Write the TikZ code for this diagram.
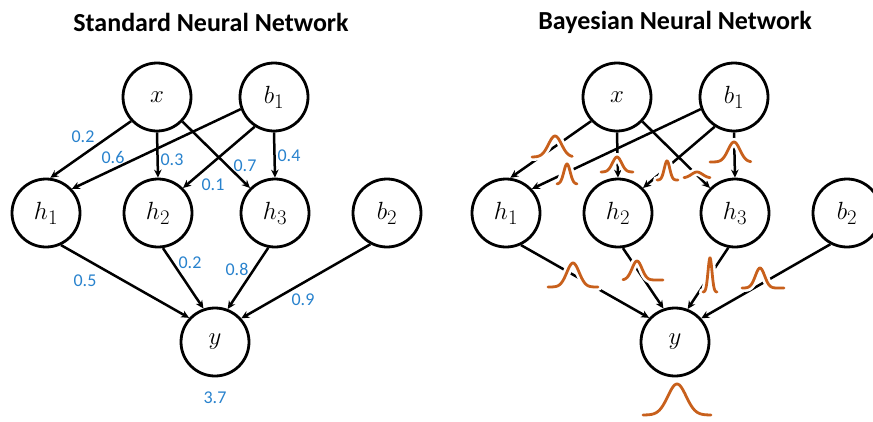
\documentclass[tikz,border=0pt]{standalone}
\usepackage{fontspec}
\setmainfont{Carlito}
\usetikzlibrary{arrows.meta}
\definecolor{wblue}{RGB}{40,130,205}
\definecolor{borange}{RGB}{200,96,28}
\newcommand\bellcurve[6]{%
  \draw[white,line width=8pt,line cap=round] plot[domain=#6,samples=50,smooth] ({#1+#3*\x},{#2-#4*exp(-(\x/#5)*(\x/#5))});
  \draw[bellc] plot[domain=#6,samples=50,smooth] ({#1+#3*\x},{#2-#4*exp(-(\x/#5)*(\x/#5))});
}
\begin{document}
\begin{tikzpicture}[x=1pt,y=-1pt,
  neuron/.style={circle,draw,line width=2.8pt,minimum size=68pt,inner sep=0pt,font=\fontsize{30}{32}\selectfont},
  conn/.style={line width=2.5pt,-{Stealth[length=8pt,width=7.5pt]}},
  wlab/.style={text=wblue,font=\fontsize{18}{20}\selectfont},
  title/.style={font=\fontsize{26}{28}\selectfont\bfseries},
  bellc/.style={borange,line width=2.8pt,line cap=round}]
\useasboundingbox (0,0) rectangle (873,421);
\node[title] (t1) at (211,22) {Standard Neural Network};
\node[title] (t2) at (675,22) {Bayesian Neural Network};
\foreach \p/\s in {L/0,R/460}{
  \node[neuron] (\p x) at (\s+157,97) {$x$};
  \node[neuron] (\p b1) at (\s+274,97) {$b_1$};
  \node[neuron] (\p h1) at (\s+46,213) {$h_1$};
  \node[neuron] (\p h2) at (\s+158,213) {$h_2$};
  \node[neuron] (\p h3) at (\s+275,213) {$h_3$};
  \node[neuron] (\p b2) at (\s+387,213) {$b_2$};
  \node[neuron] (\p y) at (\s+215,342) {$y$};
  \draw[conn] (\p x.223) -- (\p h1.83);
  \draw[conn] (\p b1.200) -- (\p h1.43);
  \draw[conn] (\p x.270) -- (\p h2.90);
  \draw[conn] (\p b1.237) -- (\p h2.45);
  \draw[conn] (\p x.316) -- (\p h3.135);
  \draw[conn] (\p b1.270) -- (\p h3.90);
  \draw[conn] (\p h1.295) -- (\p y.137);
  \draw[conn] (\p h2.278) -- (\p y.109);
  \draw[conn] (\p h3.259) -- (\p y.69);
  \draw[conn] (\p b2.242) -- (\p y.42);
}
% weights
\node[wlab] (w1) at (83,137) {0.2};
\node[wlab] (w2) at (113,157) {0.6};
\node[wlab] (w3) at (172,160) {0.3};
\node[wlab] (w4) at (245,166) {0.7};
\node[wlab] (w5) at (213,185) {0.1};
\node[wlab] (w6) at (289,156) {0.4};
\node[wlab] (w7) at (85,281) {0.5};
\node[wlab] (w8) at (190,263) {0.2};
\node[wlab] (w9) at (237,269) {0.8};
\node[wlab] (w10) at (303,300) {0.9};
\node[wlab] (w11) at (215,398) {3.7};
% bell curves
\bellcurve{555}{157}{23}{21}{0.4}{-1:0.75}
\bellcurve{567}{184}{10}{20}{0.45}{-1:1}
\bellcurve{617}{172}{16}{15}{0.4}{-1:1}
\bellcurve{667}{180}{11}{19}{0.35}{-0.9:1}
\bellcurve{697}{178}{13}{6}{0.6}{-1:1}
\bellcurve{734}{162}{24}{20}{0.35}{-1:0.7}
\bellcurve{573}{287}{25}{24}{0.35}{-1:1}
\bellcurve{637}{280}{20}{19}{0.35}{-0.7:1.3}
\bellcurve{710}{292}{7}{34}{0.4}{-1:1}
\bellcurve{760}{288}{20}{20}{0.33}{-0.9:1.2}
\bellcurve{677}{415}{34}{31}{0.38}{-1:1}
\end{tikzpicture}
\end{document}
